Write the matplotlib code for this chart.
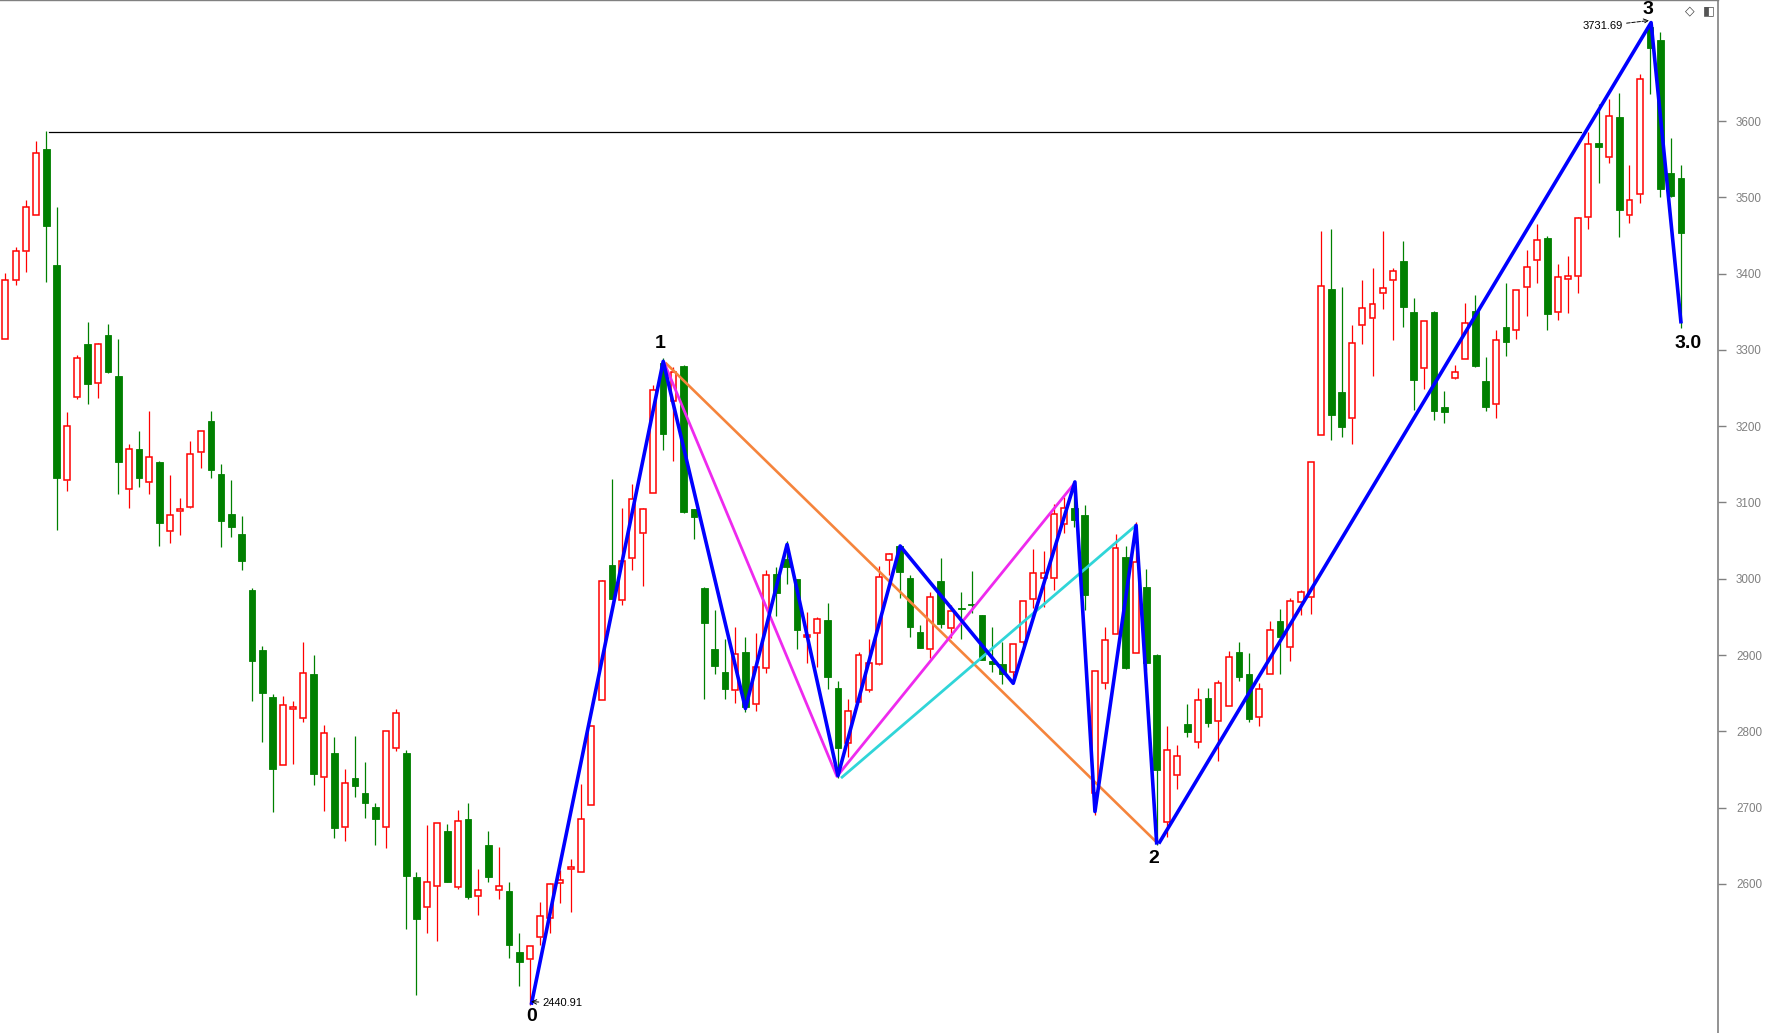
import matplotlib
matplotlib.use('Agg')
import matplotlib.pyplot as plt
import numpy as np

# daily candles (red = up / hollow, green = down / filled)
opens = [3313.9, 3391.2, 3429.2, 3476.4, 3563.3, 3411.3, 3129.1, 3237.9, 3307.8, 3256.2,
         3319.6, 3265.8, 3117.3, 3170.1, 3126.4, 3153.1, 3063.1, 3088.5, 3094.6, 3166.7,
         3206.4, 3137.4, 3085.0, 3058.8, 2985.4, 2906.7, 2845.1, 2755.6, 2829.8, 2817.2,
         2875.3, 2739.8, 2771.7, 2675.2, 2738.5, 2719.3, 2701.0, 2674.3, 2777.8, 2771.7,
         2608.8, 2569.5, 2597.0, 2669.5, 2596.5, 2685.2, 2583.9, 2651.1, 2591.7, 2590.9,
         2510.9, 2501.3, 2531.0, 2555.9, 2601.8, 2619.3, 2616.2, 2703.1, 2841.1, 3018.1,
         2971.8, 3027.7, 3059.6, 3112.0, 3282.4, 3233.5, 3278.9, 3091.1, 2987.5, 2907.6,
         2877.9, 2853.8, 2903.6, 2835.5, 2882.7, 3005.9, 3026.0, 2999.3, 2923.3, 2928.5,
         2946.0, 2856.9, 2784.4, 2838.1, 2853.8, 2888.8, 3024.2, 3043.0, 3000.7, 2929.9,
         2907.6, 2997.2, 2936.0, 2961.8, 2966.6, 2952.6, 2892.3, 2887.9, 2877.4, 2916.8,
         2973.6, 3000.7, 3000.7, 3071.4, 3092.4, 3083.6, 2718.8, 2863.0, 2927.2, 3028.6,
         2902.3, 2989.2, 2900.1, 2680.8, 2742.8, 2809.2, 2786.5, 2843.3, 2814.0, 2833.7,
         2904.0, 2874.9, 2818.7, 2874.9, 2944.6, 2910.5, 2969.4, 2976.0, 3188.0, 3380.0,
         3244.7, 3210.5, 3332.2, 3341.6, 3374.3, 3391.2, 3416.5, 3349.5, 3275.8, 3349.6,
         3224.7, 3262.7, 3287.6, 3350.5, 3258.8, 3228.6, 3329.5, 3325.6, 3382.8, 3417.4,
         3446.6, 3349.2, 3393.3, 3396.4, 3473.7, 3570.7, 3553.3, 3605.7, 3476.4, 3503.9,
         3723.6, 3706.2, 3531.9, 3524.9]
highs = [3400.8, 3434.9, 3496.5, 3573.8, 3586.9, 3487.3, 3218.6, 3293.3, 3336.6, 3309.1,
         3334.0, 3314.3, 3176.7, 3193.7, 3219.9, 3154.4, 3136.1, 3106.0, 3180.7, 3193.3,
         3220.0, 3150.5, 3129.5, 3082.4, 2988.0, 2912.0, 2849.1, 2846.4, 2839.9, 2917.2,
         2900.2, 2808.4, 2792.7, 2750.8, 2794.0, 2759.9, 2706.2, 2800.1, 2829.4, 2775.2,
         2615.8, 2677.4, 2679.5, 2678.2, 2697.0, 2706.2, 2619.7, 2669.5, 2648.5, 2602.2,
         2535.8, 2518.3, 2576.4, 2601.8, 2618.4, 2632.4, 2730.7, 2807.1, 2998.4, 3130.8,
         3092.8, 3124.3, 3092.4, 3254.0, 3289.0, 3278.0, 3280.2, 3091.1, 2989.7, 2959.1,
         2921.5, 2936.8, 2923.7, 2928.5, 3011.5, 3015.0, 3049.6, 2999.3, 2956.5, 2949.5,
         2967.9, 2865.6, 2842.5, 2903.6, 2921.1, 3016.4, 3033.4, 3044.3, 3005.0, 2939.5,
         2983.2, 3026.9, 2965.7, 2983.2, 3010.3, 2952.6, 2936.4, 2916.8, 2914.2, 2970.9,
         3039.1, 3036.5, 3097.6, 3107.7, 3128.2, 3096.8, 2879.1, 2936.4, 3058.3, 3043.0,
         3074.9, 3012.8, 2901.0, 2807.0, 2782.1, 2835.4, 2856.4, 2856.4, 2867.3, 2905.8,
         2917.1, 2903.0, 2863.2, 2944.6, 2960.1, 2975.1, 2985.3, 3152.5, 3455.8, 3458.6,
         3382.3, 3332.2, 3391.7, 3407.6, 3455.8, 3407.6, 3442.7, 3367.5, 3337.4, 3351.0,
         3246.1, 3280.2, 3361.0, 3371.5, 3291.1, 3326.0, 3387.6, 3378.0, 3430.9, 3464.5,
         3448.8, 3412.5, 3423.5, 3473.7, 3586.0, 3622.3, 3628.4, 3637.1, 3542.3, 3661.6,
         3731.69, 3716.7, 3578.2, 3542.8]
lows = [3313.9, 3385.5, 3402.6, 3476.4, 3389.5, 3064.0, 3115.5, 3235.2, 3229.6, 3237.4,
        3270.2, 3111.6, 3093.2, 3120.8, 3111.6, 3043.4, 3047.4, 3057.9, 3093.3, 3145.7,
        3132.6, 3042.2, 3055.3, 3012.0, 2840.3, 2786.6, 2694.8, 2755.6, 2757.7, 2812.8,
        2730.2, 2696.1, 2660.0, 2656.8, 2714.5, 2687.0, 2651.6, 2647.7, 2774.8, 2541.5,
        2454.1, 2536.3, 2525.8, 2602.0, 2593.9, 2580.8, 2559.8, 2602.7, 2580.8, 2503.5,
        2466.8, 2440.91, 2519.6, 2536.3, 2574.7, 2563.8, 2616.2, 2703.1, 2841.1, 2973.1,
        2965.7, 3012.0, 2991.0, 3112.0, 3168.8, 3154.8, 3086.7, 3051.7, 2842.0, 2875.7,
        2842.0, 2836.8, 2825.9, 2827.2, 2877.0, 2951.3, 2993.2, 2908.0, 2890.1, 2884.0,
        2855.1, 2738.5, 2766.9, 2838.1, 2852.1, 2887.5, 3005.0, 2974.4, 2924.2, 2908.9,
        2895.8, 2936.0, 2922.0, 2921.2, 2955.0, 2893.6, 2877.4, 2862.6, 2862.2, 2913.3,
        2961.3, 2963.5, 2985.4, 3059.6, 3068.4, 2959.1, 2690.4, 2855.1, 2927.2, 2882.2,
        2902.3, 2880.0, 2651.1, 2661.1, 2724.0, 2793.1, 2777.8, 2806.2, 2761.6, 2833.7,
        2866.5, 2812.2, 2806.5, 2874.9, 2875.8, 2892.7, 2953.1, 2954.5, 3188.0, 3182.4,
        3186.2, 3176.3, 3308.3, 3265.3, 3354.2, 3313.5, 3329.9, 3221.5, 3249.1, 3208.1,
        3203.7, 3261.4, 3287.6, 3278.0, 3220.3, 3211.1, 3292.0, 3314.7, 3344.8, 3388.1,
        3326.0, 3339.1, 3348.8, 3375.0, 3458.0, 3518.3, 3544.5, 3447.5, 3466.8, 3493.0,
        3635.0, 3500.8, 3500.8, 3329.1]
closes = [3391.6, 3429.2, 3486.9, 3557.7, 3462.9, 3131.7, 3200.3, 3289.0, 3255.8, 3307.8,
          3271.5, 3153.5, 3170.1, 3132.6, 3159.2, 3073.6, 3083.6, 3091.1, 3163.2, 3193.3,
          3143.1, 3076.2, 3068.4, 3023.8, 2892.8, 2850.8, 2751.2, 2834.6, 2832.0, 2876.1,
          2744.6, 2797.9, 2673.0, 2732.0, 2728.9, 2706.6, 2685.7, 2800.1, 2823.7, 2611.0,
          2554.6, 2602.2, 2679.5, 2602.7, 2682.2, 2583.4, 2591.7, 2609.6, 2597.0, 2520.1,
          2498.2, 2518.3, 2557.7, 2600.0, 2604.8, 2621.9, 2684.8, 2807.1, 2996.7, 2973.1,
          3022.9, 3104.2, 3091.1, 3247.0, 3190.2, 3271.5, 3088.0, 3080.6, 2942.5, 2886.2,
          2856.0, 2901.0, 2832.4, 2884.0, 3004.6, 2981.8, 3015.0, 2933.3, 2925.9, 2946.9,
          2871.7, 2778.7, 2826.7, 2899.7, 2889.2, 3001.9, 3032.1, 3009.4, 2936.4, 2908.9,
          2975.8, 2941.2, 2957.8, 2960.8, 2966.0, 2893.6, 2888.8, 2875.3, 2914.2, 2970.9,
          3007.2, 3007.2, 3084.5, 3092.4, 3077.1, 2979.2, 2879.1, 2919.8, 3039.9, 2883.5,
          3022.4, 2890.1, 2749.4, 2775.6, 2767.7, 2799.6, 2841.1, 2811.4, 2863.0, 2897.1,
          2871.7, 2816.8, 2855.2, 2932.5, 2923.6, 2970.4, 2982.1, 3152.5, 3383.2, 3215.2,
          3198.8, 3309.7, 3354.7, 3359.8, 3380.9, 3402.9, 3356.6, 3261.2, 3337.4, 3220.3,
          3219.0, 3271.4, 3335.7, 3279.3, 3225.6, 3312.9, 3310.8, 3378.0, 3408.2, 3443.6,
          3347.5, 3395.1, 3396.4, 3472.8, 3569.8, 3566.4, 3606.6, 3483.4, 3496.5, 3655.1,
          3696.1, 3510.4, 3502.1, 3453.6]

# wave drawing: (bar index, price) vertices
blue_zigzag_x = [51.2, 64.0, 72.0, 76.05, 81.0, 87.05, 98.05, 104.05, 106.0, 110.0, 112.0]
blue_zigzag_y = [2444, 3285, 2830, 3045, 2742, 3043, 2863, 3127, 2695, 3070, 2654]
blue_main_x = [112.3, 160.1, 163.0]
blue_main_y = [2655, 3729, 3337]
magenta_x = [64.1, 80.9, 104.0]
magenta_y = [3283, 2741, 3125]
orange_x = [64.3, 111.9]
orange_y = [3282, 2656]
cyan_x = [81.4, 109.9]
cyan_y = [2740, 3069]
hline_x = [4.25, 153.25]
hline_price = 3585.2

wave_labels = ['0', '1', '2', '3', '3.0']
wave_label_x = [51.2, 63.75, 111.7, 159.8, 163.7]
wave_label_y = [2426, 3309, 2634, 3746, 3308]

yticks = [2600, 2700, 2800, 2900, 3000, 3100, 3200, 3300, 3400, 3500, 3600]

RED = '#ff0000'
GREEN = '#008000'

fig = plt.figure(figsize=(17.68, 10.33), dpi=100)
ax = fig.add_axes([0, 0, 1718 / 1768, 1])

o = np.array(opens)
h = np.array(highs)
l = np.array(lows)
c = np.array(closes)
x = np.arange(len(o))
up = c >= o
lo = np.minimum(o, c)
hi = np.maximum(o, c)

# wicks (hollow bodies keep a white inside, so red wicks stop at the body)
ax.vlines(x[up], hi[up], h[up], color=RED, lw=0.9, zorder=2)
ax.vlines(x[up], l[up], lo[up], color=RED, lw=0.9, zorder=2)
ax.vlines(x[~up], l[~up], h[~up], color=GREEN, lw=0.9, zorder=2)
ax.bar(x[up], hi[up] - lo[up], bottom=lo[up], width=0.58, facecolor='white',
       edgecolor=RED, linewidth=1.1, zorder=3)
ax.bar(x[~up], hi[~up] - lo[~up], bottom=lo[~up], width=0.64, facecolor=GREEN,
       edgecolor=GREEN, linewidth=0.6, zorder=3)

ax.plot(hline_x, [hline_price, hline_price], color='black', lw=0.9, zorder=4)
ax.plot(orange_x, orange_y, color='#f5843c', lw=1.9, zorder=5)
ax.plot(magenta_x, magenta_y, color='#ee2aee', lw=2.0, zorder=5)
ax.plot(cyan_x, cyan_y, color='#30d5d8', lw=2.0, zorder=5)
ax.plot(blue_zigzag_x, blue_zigzag_y, color='#0000ff', lw=2.6, zorder=6)
ax.plot(blue_main_x, blue_main_y, color='#0000ff', lw=2.6, zorder=6)

for txt, tx, ty in zip(wave_labels, wave_label_x, wave_label_y):
    ax.text(tx, ty, txt, ha='center', va='center', fontsize=14, fontweight='bold',
            family='Liberation Sans', color='black', zorder=7)

ax.annotate('3731.69', xy=(159.9, 3731.7), xytext=(153.4, 3724.5),
            ha='left', va='center', fontsize=8, family='Liberation Sans',
            arrowprops=dict(arrowstyle='->', linestyle='--', lw=0.7, color='black',
                            shrinkA=1, shrinkB=0), zorder=7)
ax.annotate('2440.91', xy=(51.15, 2445.8), xytext=(52.3, 2443.7),
            ha='left', va='center', fontsize=8, family='Liberation Sans',
            arrowprops=dict(arrowstyle='->', lw=0.7, color='black',
                            shrinkA=1, shrinkB=0), zorder=7)

# small toolbar icons in the corner
ax.text(163.9, 3744.6, '\u25c7', ha='center', va='center', fontsize=9,
        family='DejaVu Sans', color='#444444')
ax.text(165.75, 3744.6, '\u25e7', ha='center', va='center', fontsize=9,
        family='DejaVu Sans', color='#555555')

ax.set_xlim(-0.516, 166.61)
ax.set_ylim(2404.7, 3758.6)
ax.set_xticks([])
ax.yaxis.tick_right()
ax.set_yticks(yticks)
ax.set_yticklabels([str(v) for v in yticks], family='Liberation Sans')
ax.tick_params(axis='y', colors='#808080', labelcolor='#808080', length=6, width=1,
               pad=7, labelsize=8.4)
ax.spines['left'].set_visible(False)
ax.spines['bottom'].set_visible(False)
ax.spines['right'].set_color('#808080')
ax.spines['right'].set_linewidth(1.2)
ax.spines['top'].set_color('#808080')
ax.spines['top'].set_linewidth(1.0)

fig.savefig('out.png', dpi=100)
